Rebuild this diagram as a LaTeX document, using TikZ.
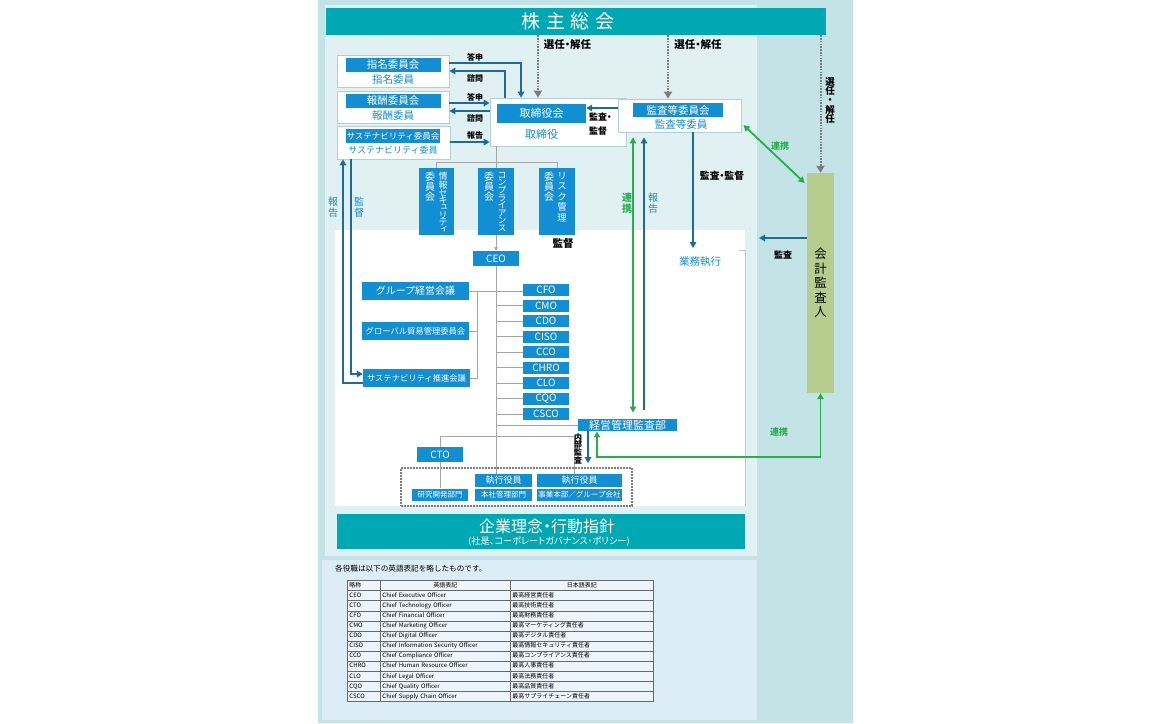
\documentclass[tikz,border=0pt]{standalone}
\usepackage{fontspec}
\setmainfont{Noto Sans CJK JP}
\newfontfamily\tatefont{Noto Sans CJK JP}[RawFeature=+vert]
\newfontfamily\palfont{Noto Sans CJK JP}[RawFeature=+palt]
\usetikzlibrary{arrows.meta, matrix}

\definecolor{kabuteal}{RGB}{0,168,180}
\definecolor{yakublue}{RGB}{18,142,212}
\definecolor{yajiblue}{RGB}{26,108,158}
\definecolor{renkeigreen}{RGB}{38,176,74}
\definecolor{sengray}{RGB}{165,165,165}
\definecolor{tengray}{RGB}{125,125,125}
\definecolor{kaikeigreen}{RGB}{181,206,143}
\definecolor{haikei}{RGB}{196,227,231}
\definecolor{haikeiusu}{RGB}{225,241,243}
\definecolor{hyohaikei}{RGB}{221,237,248}
\definecolor{hyocell}{RGB}{236,245,252}
\definecolor{hyosen}{RGB}{105,105,105}
\definecolor{wakusen}{RGB}{178,208,216}

\lineskiplimit=-20pt

\begin{document}
\begin{tikzpicture}[x=1pt, y=-1pt,
    aobox/.style={fill=yakublue, text=white, inner sep=0pt},
    shirobox/.style={fill=white, draw=wakusen, line width=0.7pt, inner sep=0pt},
    aomoji/.style={text=yakublue, inner sep=0pt},
    kuromoji/.style={text=black, inner sep=0pt, font=\fontsize{8}{9}\selectfont\bfseries},
    tate/.style={align=center, inner sep=0pt, anchor=north},
    haisen/.style={draw=sengray, line width=0.9pt},
    aoya/.style={draw=yajiblue, line width=1.8pt, -{Triangle[width=6.5pt,length=6pt]}},
    midoriya/.style={draw=renkeigreen, line width=1.8pt, {Triangle[width=6.5pt,length=6pt]}-{Triangle[width=6.5pt,length=6pt]}},
    tenya/.style={draw=tengray, line width=2pt, dash pattern=on 1.6pt off 1.2pt, -{Triangle[width=8pt,length=7pt]}},
    cxo/.style={aobox, minimum width=46pt, minimum height=12pt, font=\fontsize{10}{11}\selectfont}]

        % haikei
        \useasboundingbox (0,0) rectangle (1172,723);
        \fill[white] (0,0) rectangle (1172,723);
        \fill[haikei] (318,0) rectangle (853,723);
        \fill[haikeiusu] (325,5) rectangle (757,556);
        \fill[hyohaikei] (322,560) rectangle (757,720);
        \fill[white] (335,230) rectangle (745,506);
        \draw[wakusen, line width=0.6pt] (739,250) -- (745,250) -- (745,506);

        % kabunushi soukai
        \node[fill=kabuteal, text=white, minimum width=500pt, minimum height=27pt, inner sep=0pt, font=\fontsize{19}{20}\selectfont] (soukai) at (576,21.5) {\kern-16pt 株\hspace{5.5pt}主\hspace{5.5pt}総\hspace{5.5pt}会};

        % iinkai
        \node[shirobox, minimum width=112pt, minimum height=32pt] (shimei) at (393,71) {};
        \node[aobox, minimum width=95pt, minimum height=14pt, font=\fontsize{10.5}{12}\selectfont] (shimeiKai) at (393,64.5) {指名委員会};
        \node[aomoji, font=\fontsize{10.5}{12}\selectfont] (shimeiIin) at (393,80) {指名委員};

        \node[shirobox, minimum width=112pt, minimum height=32pt] (houshu) at (393,107) {};
        \node[aobox, minimum width=95pt, minimum height=14pt, font=\fontsize{10.5}{12}\selectfont] (houshuKai) at (393,100.5) {報酬委員会};
        \node[aomoji, font=\fontsize{10.5}{12}\selectfont] (houshuIin) at (393,115.5) {報酬委員};

        \node[shirobox, minimum width=113pt, minimum height=33pt] (susIinkai) at (393.5,142.5) {};
        \node[aobox, minimum width=94pt, minimum height=14pt, font=\fontsize{8.5}{10}\selectfont] (susKai) at (393,136) {サステナビリティ委員会};
        \node[aomoji, font=\fontsize{9}{10}\selectfont] (susIin) at (393,150.5) {サステナビリティ委員};

        \node[shirobox, minimum width=136pt, minimum height=48pt] (torishima) at (558,122) {};
        \node[aobox, minimum width=89pt, minimum height=19pt, font=\fontsize{11}{12}\selectfont] (torishimaKai) at (541.5,113.5) {取締役会};
        \node[aomoji, font=\fontsize{11}{12}\selectfont] (torishimaYaku) at (541.5,134) {取締役};

        \node[shirobox, minimum width=123pt, minimum height=33pt] (kansa) at (679.5,115.5) {};
        \node[aobox, minimum width=90pt, minimum height=14pt, font=\fontsize{10.5}{12}\selectfont] (kansaKai) at (678,110) {監査等委員会};
        \node[aomoji, font=\fontsize{10.5}{12}\selectfont] (kansaIin) at (681,124.5) {監査等委員};

        \node[fill=kaikeigreen, minimum width=27pt, minimum height=220pt, inner sep=0pt] (kaikei) at (820.5,283) {};
        \node[tate, font=\tatefont\fontsize{12.5}{14.5}\selectfont] (kaikeiMoji) at (820.5,248) {会\\計\\監\\査\\人};

        % tategaki iinkai
        \node[aobox, minimum width=35pt, minimum height=67pt] (joho) at (436.5,201.5) {};
        \node[aobox, minimum width=36pt, minimum height=67pt] (comp) at (496,201.5) {};
        \node[aobox, minimum width=36pt, minimum height=67pt] (risk) at (557,201.5) {};
        \node[tate, text=white, font=\tatefont\fontsize{9}{7.3}\selectfont] (johoMei) at (443,172) {情\\[1.5pt]報\\[0.5pt]セ\\キ\\ュ\\リ\\テ\\ィ};
        \node[tate, text=white, font=\tatefont\fontsize{10}{10}\selectfont] (johoIin) at (430,172) {委\\員\\会};
        \node[tate, text=white, font=\tatefont\fontsize{9}{7.6}\selectfont] (compMei) at (502,172) {コ\\ン\\プ\\ラ\\イ\\ア\\ン\\ス};
        \node[tate, text=white, font=\tatefont\fontsize{10}{10}\selectfont] (compIin) at (489,172) {委\\員\\会};
        \node[tate, text=white, font=\tatefont\fontsize{9.5}{10.5}\selectfont] (riskMei) at (562,172) {リ\\ス\\ク\\管\\理};
        \node[tate, text=white, font=\tatefont\fontsize{10}{10}\selectfont] (riskIin) at (549,172) {委\\員\\会};

        % shikkou
        \node[cxo, minimum height=15pt] (ceo) at (496,258.5) {CEO};
        \node[cxo] (cfo) at (546,290) {CFO};
        \node[cxo] (cmo) at (546,305.5) {CMO};
        \node[cxo] (cdo) at (546,321) {CDO};
        \node[cxo] (ciso) at (546,336.5) {CISO};
        \node[cxo] (cco) at (546,352) {CCO};
        \node[cxo] (chro) at (546,367.5) {CHRO};
        \node[cxo] (clo) at (546,383) {CLO};
        \node[cxo] (cqo) at (546,398.5) {CQO};
        \node[cxo] (csco) at (546,414) {CSCO};

        \node[aobox, minimum width=107pt, minimum height=18pt, font=\fontsize{10}{11}\selectfont] (group) at (415.5,291) {グループ経営会議};
        \node[aobox, minimum width=107pt, minimum height=18pt, font=\fontsize{8.3}{10}\selectfont] (global) at (415.5,331) {グローバル貿易管理委員会};
        \node[aobox, minimum width=107pt, minimum height=18pt, font=\fontsize{8.3}{10}\selectfont] (susSuishin) at (416.5,378) {サステナビリティ推進会議};

        \node[aobox, minimum width=99pt, minimum height=12.5pt, font=\fontsize{11}{12}\selectfont] (keiei) at (627.5,425) {経営管理監査部};
        \node[aobox, minimum width=46pt, minimum height=15.5pt, font=\fontsize{10}{11}\selectfont] (cto) at (440,454.5) {CTO};
        \node[aobox, minimum width=56pt, minimum height=12pt, font=\fontsize{7.5}{9}\selectfont] (kenkyu) at (440,494.5) {研究開発部門};
        \node[aobox, minimum width=57pt, minimum height=12.5pt, font=\fontsize{9}{10}\selectfont] (honsha) at (503.5,480.5) {執行役員};
        \node[aobox, minimum width=57pt, minimum height=12pt, font=\fontsize{7.5}{9}\selectfont] (honshaBu) at (503.5,494.5) {本社管理部門};
        \node[aobox, minimum width=85pt, minimum height=12.5pt, font=\fontsize{9}{10}\selectfont] (jigyo) at (579.5,480.5) {執行役員};
        \node[aobox, minimum width=85pt, minimum height=12pt, font=\fontsize{7.5}{9}\selectfont] (jigyoBu) at (579.5,494.5) {事業本部／グループ会社};
        \node[draw=tengray, line width=1.6pt, dash pattern=on 1.6pt off 1.4pt, minimum width=231pt, minimum height=38pt, inner sep=0pt] (jikko) at (516.5,487) {};

        \node[fill=kabuteal, minimum width=408pt, minimum height=35pt, inner sep=0pt] (rinen) at (541,531.5) {};
        \node[text=white, inner sep=0pt, font=\palfont\fontsize{16}{17}\selectfont] (rinenMoji) at (547,526.5) {企業理念・行動指針};
        \node[text=white, inner sep=0pt, font=\palfont\fontsize{9.2}{10}\selectfont] (rinenSub) at (549,541.5) {(社是、コーポレートガバナンス・ポリシー)};

        % haisen
        \coordinate (kakko) at (477,291);
        \coordinate (ctoKado) at (0,436.5);
        \draw[haisen] (torishima.south -| comp.north) -- (comp.north);
        \draw[haisen] (joho.north) -- ++(0,-5) -| (risk.north);
        \draw[haisen, -{Triangle[width=4pt,length=3.5pt]}] (comp.south) -- (ceo.north);
        \draw[haisen] (ceo.south) -- (ceo.south |- honsha.north);
        \draw[haisen] (group.east) -- (group.east -| cfo.west);
        \draw[haisen] (global.east) -| (kakko);
        \draw[haisen] (susSuishin.east) -| (kakko);
        \draw[haisen] (ceo.south |- cmo.west) -- (cmo.west);
        \draw[haisen] (ceo.south |- cdo.west) -- (cdo.west);
        \draw[haisen] (ceo.south |- ciso.west) -- (ciso.west);
        \draw[haisen] (ceo.south |- cco.west) -- (cco.west);
        \draw[haisen] (ceo.south |- chro.west) -- (chro.west);
        \draw[haisen] (ceo.south |- clo.west) -- (clo.west);
        \draw[haisen] (ceo.south |- cqo.west) -- (cqo.west);
        \draw[haisen] (ceo.south |- csco.west) -- (csco.west);
        \draw[haisen] (ceo.south |- keiei.west) -- (keiei.west);
        \draw[haisen] (cto.north) -- (cto.north |- ctoKado) -| (jigyo.north -| 574,0);
        \draw[haisen] (cto.south) -- (kenkyu.north);

        % yajirushi
        \draw[tenya] (soukai.south -| 538,0) -- (torishima.north -| 538,0);
        \draw[tenya] (soukai.south -| 668,0) -- (kansa.north -| 668,0);
        \draw[tenya] (soukai.south -| kaikei.north) -- (kaikei.north);

        \draw[aoya] (shimei.east |- 0,63) -| (torishima.north -| 521,0);
        \draw[aoya] (torishima.north -| 505,0) |- (shimei.east);
        \draw[aoya] (houshu.east |- 0,103) -- (torishima.west |- 0,103);
        \draw[aoya] (torishima.west |- 0,111) -- (houshu.east |- 0,111);
        \draw[aoya] (susIinkai.east |- 0,142) -- (torishima.west |- 0,142);
        \draw[aoya] (kansa.west |- 0,108) -- (torishimaKai.east |- 0,108);

        \draw[aoya] (susSuishin.west |- 0,383) -| (susIinkai.south -| 343,0);
        \draw[aoya] (susIinkai.south -| 351,0) |- (susSuishin.west |- 0,374);

        \coordinate (gyomuUe) at (693,248);
        \coordinate (kansaSaki) at (759,238);
        \draw[aoya] (kansa.south -| gyomuUe) -- (gyomuUe);
        \draw[aoya] (kaikei.west |- kansaSaki) -- (kansaSaki);
        \draw[midoriya, shorten <=3pt, shorten >=3pt] (kansa.east |- 0,123) -- (kaikei.west |- 0,185);

        \draw[midoriya, shorten <=6pt, shorten >=5pt] (keiei.north -| 633,0) -- (kansa.south -| 633,0);
        \draw[aoya, shorten <=9pt, shorten >=5pt] (keiei.north -| 644,0) -- (kansa.south -| 644,0);
        \draw[aoya, shorten >=4pt] (keiei.south -| 588,0) -- (jikko.north -| 588,0);
        \draw[midoriya] (keiei.south -| 597,0) |- (kaikei.south |- 0,457) -- (kaikei.south);

        % moji
        \node[kuromoji, font=\palfont\fontsize{10.5}{11}\selectfont\bfseries] (sennin1) at (567.5,45) {選任・解任};
        \node[kuromoji, font=\palfont\fontsize{10.5}{11}\selectfont\bfseries] (sennin2) at (698,45) {選任・解任};
        \node[tate, font=\tatefont\fontsize{9.5}{9.3}\selectfont\bfseries] (sennin3) at (830,77) {選\\任\\・\\解\\任};
        \node[kuromoji] (toushin1) at (475,57) {答申};
        \node[kuromoji] (shimon1) at (475,78) {諮問};
        \node[kuromoji] (toushin2) at (475,97) {答申};
        \node[kuromoji] (shimon2) at (475,118) {諮問};
        \node[kuromoji] (houkoku1) at (475,135) {報告};
        \node[kuromoji, align=left, anchor=north west, font=\palfont\fontsize{9}{14}\selectfont\bfseries] (kansaKantoku1) at (589,113) {監査・\\監督};
        \node[kuromoji, font=\fontsize{10.5}{12}\selectfont\bfseries] (kantoku2) at (563,244) {監督};
        \node[aomoji, font=\fontsize{10.5}{12}\selectfont] (gyomu) at (700,262) {業務執行};
        \node[kuromoji, font=\palfont\fontsize{9.8}{10}\selectfont\bfseries] (kansaKantoku2) at (722,176) {監査・監督};
        \node[kuromoji, text=renkeigreen, font=\fontsize{9}{10}\selectfont\bfseries] (renkei1) at (780,146) {連携};
        \node[kuromoji, font=\fontsize{9}{10}\selectfont\bfseries] (kansaMoji) at (783,255) {監査};
        \node[kuromoji, text=renkeigreen, font=\fontsize{9}{10}\selectfont\bfseries] (renkei2) at (779,432) {連携};
        \node[tate, text=yakublue, font=\tatefont\fontsize{10}{11}\selectfont] (houkoku2) at (333,197) {報\\告};
        \node[tate, text=yakublue, font=\tatefont\fontsize{10}{11}\selectfont] (kantoku1) at (359,197) {監\\督};
        \node[tate, text=renkeigreen, font=\tatefont\fontsize{10}{11}\selectfont\bfseries] (renkei3) at (627,193) {連\\携};
        \node[tate, text=yakublue, font=\tatefont\fontsize{10}{11}\selectfont] (houkoku3) at (653,193) {報\\告};
        \node[tate, font=\tatefont\fontsize{8}{7.7}\selectfont\bfseries] (naibu) at (578,433) {内\\部\\監\\査};

        % hyou
        \node[anchor=west, inner sep=0pt, font=\fontsize{7.6}{9}\selectfont] (chuki) at (335,569) {各役職は以下の英語表記を略したものです。};
        \matrix (yakushoku) [matrix of nodes, anchor=north west, inner sep=0pt, row sep=-0.5pt, column sep=-0.5pt,
            nodes={draw=hyosen, line width=0.5pt, fill=hyocell, minimum height=10.1pt, text height=4.4pt, text depth=1.2pt, inner sep=0pt, inner xsep=2pt, anchor=center, font=\fontsize{6}{7}\selectfont},
            column 1/.style={nodes={text width=29pt, align=left}},
            column 2/.style={nodes={text width=126pt, align=left}},
            column 3/.style={nodes={text width=139pt, align=left}}] at (347,580) {
            略称 & |[align=center]| 英語表記 & |[align=center]| 日本語表記 \\
            CEO & Chief Executive Officer & 最高経営責任者 \\
            CTO & Chief Technology Officer & 最高技術責任者 \\
            CFO & Chief Financial Officer & 最高財務責任者 \\
            CMO & Chief Marketing Officer & 最高マーケティング責任者 \\
            CDO & Chief Digital Officer & 最高デジタル責任者 \\
            CISO & Chief Information Security Officer & 最高情報セキュリティ責任者 \\
            CCO & Chief Compliance Officer & 最高コンプライアンス責任者 \\
            CHRO & Chief Human Resource Officer & 最高人事責任者 \\
            CLO & Chief Legal Officer & 最高法務責任者 \\
            CQO & Chief Quality Officer & 最高品質責任者 \\
            CSCO & Chief Supply Chain Officer & 最高サプライチェーン責任者 \\
        };
    \end{tikzpicture}
\end{document}
